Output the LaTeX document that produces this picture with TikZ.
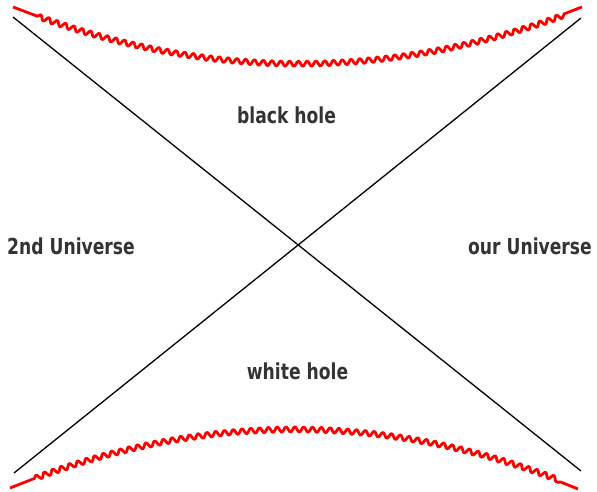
\documentclass[tikz,border=0pt]{standalone}
\usepackage{fontspec}
\usetikzlibrary{decorations.pathmorphing}
\newfontfamily\regionfont{DejaVu Sans}[FakeStretch=0.78]
\definecolor{Hc}{HTML}{FF0000}
\definecolor{Tc}{HTML}{333333}
\tikzset{
  horizon/.style={black, line width=1.3pt},
  sing/.style={Hc, line width=2.8pt, line join=round, decorate,
    decoration={snake, amplitude=2.6pt, segment length=8.8pt, pre length=26pt, post length=16pt}},
  region/.style={Tc, anchor=base, inner sep=0pt, font=\regionfont\bfseries\fontsize{22}{24}\selectfont},
}
\begin{document}
\begin{tikzpicture}[x=1pt, y=-1pt]
  \useasboundingbox (0,0) rectangle (597,491);
  % horizons
  \coordinate (tl) at (13,17);
  \coordinate (br) at (581,471);
  \coordinate (bl) at (14,473);
  \coordinate (tr) at (581,18);
  \draw[horizon] (tl) -- (br);
  \draw[horizon] (bl) -- (tr);
  % singularities (quadratic arcs written as cubics)
  \coordinate (s1) at (13,7);
  \coordinate (s1a) at (202,81.7);
  \coordinate (s1b) at (392,81.7);
  \coordinate (s2) at (582,7);
  \coordinate (w1) at (10,488);
  \coordinate (w1a) at (199,410.7);
  \coordinate (w1b) at (389,410.7);
  \coordinate (w2) at (578,489);
  \draw[sing] (s1) .. controls (s1a) and (s1b) .. (s2);
  \draw[sing] (w1) .. controls (w1a) and (w1b) .. (w2);
  % regions
  \node[region] (bh) at (286.5,123) {black hole};
  \node[region] (wh) at (297.5,379) {white hole};
  \node[region] (u2) at (71,254) {2nd Universe};
  \node[region] (u1) at (530,254) {our Universe};
\end{tikzpicture}
\end{document}
